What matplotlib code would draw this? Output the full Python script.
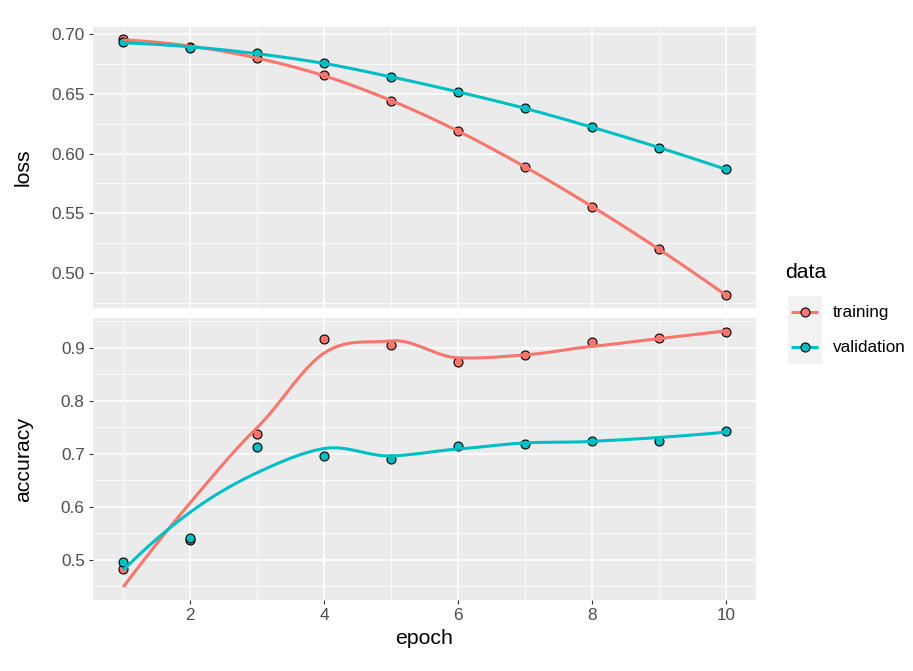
import numpy as np
import matplotlib
matplotlib.use('Agg')
import matplotlib.pyplot as plt
from matplotlib.patches import Rectangle

plt.rcParams['font.family'] = ['Liberation Sans', 'DejaVu Sans']

# data
epoch = [1, 2, 3, 4, 5, 6, 7, 8, 9, 10]
loss_training = [0.6955, 0.689, 0.680, 0.6655, 0.644, 0.619, 0.589, 0.555, 0.520, 0.4815]
loss_validation = [0.693, 0.6885, 0.684, 0.6755, 0.664, 0.6515, 0.638, 0.622, 0.6045, 0.587]
acc_training = [0.483, 0.537, 0.738, 0.917, 0.905, 0.874, 0.887, 0.912, 0.918, 0.931]
acc_validation = [0.497, 0.541, 0.713, 0.697, 0.690, 0.716, 0.718, 0.724, 0.725, 0.744]

series_names = ['training', 'validation']
colors = {'training': '#F8766D', 'validation': '#00BFC4'}


def local_fit(x, y, x0, span=0.75):
    # local quadratic fit with tricube weights; returns value and slope at x0
    q = int(np.floor(len(x) * span))
    d = np.abs(x - x0)
    h = np.sort(d)[q - 1]
    w = np.clip(1 - (d / h) ** 3, 0, None) ** 3
    X = np.column_stack([np.ones_like(x), x - x0, (x - x0) ** 2])
    Wm = np.diag(w)
    beta = np.linalg.solve(X.T @ Wm @ X, X.T @ Wm @ y)
    return beta[0], beta[1]


def loess(x, y, xs, span=0.75):
    # loess with kd-tree vertices + cubic Hermite interpolation (like R's default surface)
    x = np.asarray(x, float)
    y = np.asarray(y, float)
    xsort = np.sort(x)
    margin = 0.005 * (xsort[-1] - xsort[0])
    verts = [xsort[0] - margin, xsort[-1] + margin]

    def split(pts):
        if len(pts) <= 1:
            return
        m = (len(pts) - 1) // 2
        verts.append(pts[m])
        split(pts[:m + 1])
        split(pts[m + 1:])

    split(list(xsort))
    verts = np.unique(np.array(verts))
    vals = np.array([local_fit(x, y, v, span) for v in verts])
    out = []
    for x0 in xs:
        i = min(np.searchsorted(verts, x0, side='right') - 1, len(verts) - 2)
        x1, x2 = verts[i], verts[i + 1]
        hh = x2 - x1
        t = (x0 - x1) / hh
        h00 = 2 * t**3 - 3 * t**2 + 1
        h10 = t**3 - 2 * t**2 + t
        h01 = -2 * t**3 + 3 * t**2
        h11 = t**3 - t**2
        out.append(h00 * vals[i, 0] + h10 * hh * vals[i, 1]
                   + h01 * vals[i + 1, 0] + h11 * hh * vals[i + 1, 1])
    return np.array(out)


W_PX, H_PX = 913, 671
fig = plt.figure(figsize=(W_PX / 100, H_PX / 100), dpi=100)

ax_loss = fig.add_axes([93 / W_PX, 1 - 308 / H_PX, 663 / W_PX, 281 / H_PX])
ax_acc = fig.add_axes([93 / W_PX, 1 - 600 / H_PX, 663 / W_PX, 282 / H_PX])

panels = [
    (ax_loss, {'training': loss_training, 'validation': loss_validation},
     (0.4707, 0.7059), [0.50, 0.55, 0.60, 0.65, 0.70], 'loss', '{:.2f}'),
    (ax_acc, {'training': acc_training, 'validation': acc_validation},
     (0.4245, 0.9566), [0.5, 0.6, 0.7, 0.8, 0.9], 'accuracy', '{:.1f}'),
]

xs = np.linspace(1, 10, 80)
for ax, data, ylim, yticks, label, fmt in panels:
    ax.set_facecolor('#EBEBEB')
    for s in ax.spines.values():
        s.set_visible(False)
    ax.set_xticks([2, 4, 6, 8, 10])
    ax.set_xticks([1, 3, 5, 7, 9], minor=True)
    ax.set_yticks(yticks)
    step = yticks[1] - yticks[0]
    ax.set_yticks([t - step / 2 for t in yticks] + [yticks[-1] + step / 2], minor=True)
    ax.set_yticklabels([fmt.format(t) for t in yticks])
    ax.set_xlim(0.55, 10.45)
    ax.set_ylim(*ylim)
    ax.grid(which='major', color='white', linewidth=1.1)
    ax.grid(which='minor', color='white', linewidth=0.55)
    ax.set_axisbelow(True)
    ax.tick_params(which='major', length=3, width=0.8, color='#333333',
                   labelsize=12.3, labelcolor='#4D4D4D', pad=3)
    ax.tick_params(which='minor', length=0)
    for name in series_names:
        ax.scatter(epoch, data[name], s=42, facecolor=colors[name],
                   edgecolor='black', linewidth=0.8, zorder=3)
        ax.plot(xs, loess(epoch, data[name], xs), color=colors[name],
                linewidth=2.2, zorder=4, solid_capstyle='butt')
    ax.set_ylabel(label, fontsize=15.3)
    ax.set_autoscale_on(False)

ax_loss.tick_params(axis='x', which='major', length=0, labelbottom=False)
ax_acc.set_xlabel('epoch', fontsize=15.3, labelpad=4)
for ax in (ax_loss, ax_acc):
    ax.yaxis.set_label_coords(-60 / 663, 0.5)

# legend drawn in pixel coordinates
lax = fig.add_axes([0, 0, 1, 1])
lax.set_xlim(0, W_PX)
lax.set_ylim(H_PX, 0)
lax.axis('off')
lax.text(785, 272, 'data', fontsize=15.3, va='center', ha='left')
lax.add_patch(Rectangle((787, 295), 35, 69, facecolor='#F2F2F2', edgecolor='white'))
for i, name in enumerate(series_names):
    yk = 312 + i * 35
    lax.plot([791, 818], [yk, yk], color=colors[name], linewidth=2.2, solid_capstyle='butt')
    lax.scatter([804.5], [yk], s=42, facecolor=colors[name], edgecolor='black',
                linewidth=0.8, zorder=3)
    lax.text(833, yk, name, fontsize=12.3, va='center', ha='left')

fig.savefig('out.png', dpi=100)
